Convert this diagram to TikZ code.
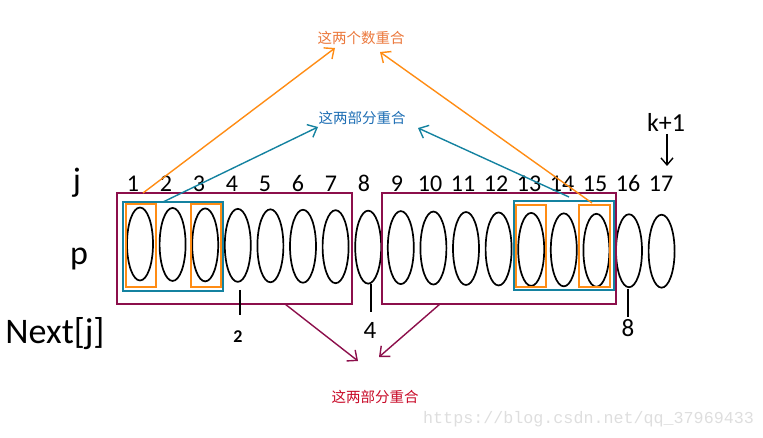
\documentclass[tikz,border=0pt]{standalone}
\usepackage{fontspec}
\setmainfont{Carlito}
\newfontfamily\cjk{Noto Sans CJK SC}
\newfontfamily\wmono{Liberation Mono}
\usetikzlibrary{shapes.geometric,arrows.meta}
\definecolor{pur}{RGB}{140,15,75}
\definecolor{teal2}{RGB}{20,130,160}
\definecolor{org}{RGB}{255,140,20}
\definecolor{otxt}{RGB}{235,120,60}
\definecolor{ttxt}{RGB}{30,110,180}
\definecolor{rtxt}{RGB}{200,10,40}
\definecolor{wm}{RGB}{222,222,222}
\begin{document}
\begin{tikzpicture}[x=1pt,y=-1pt,
  ell/.style={draw,ellipse,line width=1.7pt,minimum width=26pt,minimum height=73pt,inner sep=0pt},
  num/.style={font=\fontsize{24}{24}\selectfont,anchor=base,inner sep=0pt},
  big/.style={font=\fontsize{34}{34}\selectfont,anchor=base,inner sep=0pt},
  rbox/.style={rectangle,inner sep=0pt,outer sep=0pt,line width=1.8pt},
  pbox/.style={rbox,draw=pur},
  tbox/.style={rbox,draw=teal2},
  obox/.style={rbox,draw=org},
  arr/.style={line width=1.4pt,-{Straight Barb[length=8pt,width=14pt]}},
  cn/.style={font=\cjk\fontsize{14.5}{14.5}\selectfont,inner sep=0pt},
  tick/.style={line width=1.6pt},
]
\useasboundingbox (0,0) rectangle (763,438);
% ellipses and indices
\foreach \i in {1,...,17}{
  \node[ell] (e\i) at ({140+(\i-1)*32.6},{244+(\i-1)*0.45}) {};
  \node[num] (j\i) at ({133+(\i-1)*33},192) {\i};
}
% row labels
\node[big] (lj) at (77,192) {j};
\node[big] (lp) at (79,265) {p};
\node[font=\fontsize{36}{36}\selectfont,anchor=base,inner sep=0pt] (lnext) at (55,344) {Next[j]};
% k+1
\node[font=\fontsize{26}{26}\selectfont,anchor=base,inner sep=0pt] (k1) at (666,132) {k+1};
\coordinate (k1b) at (667,134);
\coordinate (k1t) at (667,166);
\draw[line width=1.4pt,-{Straight Barb[length=7pt,width=12pt]}] (k1b) -- (k1t);
% boxes
\node[pbox,minimum width=235pt,minimum height=111pt] (P1) at (234.5,248.5) {};
\node[pbox,minimum width=234pt,minimum height=111pt] (P2) at (499,248.5) {};
\node[tbox,minimum width=100pt,minimum height=89pt] (T1) at (173,246.5) {};
\node[tbox,minimum width=100pt,minimum height=89pt] (T2) at (564,245.5) {};
\node[obox,minimum width=30pt,minimum height=83pt] (O1) at (141,245.5) {};
\node[obox,minimum width=30pt,minimum height=83pt] (O2) at (206,245.5) {};
\node[obox,minimum width=30pt,minimum height=82pt] (O3) at (531,246) {};
\node[obox,minimum width=31pt,minimum height=82pt] (O4) at (594.5,246) {};
% next values
\node[font=\bfseries\fontsize{18}{18}\selectfont,anchor=base,inner sep=0pt] (n2) at (238,342) {2};
\node[font=\fontsize{25}{25}\selectfont,anchor=base,inner sep=0pt] (n4) at (370,338) {4};
\node[font=\fontsize{25}{25}\selectfont,anchor=base,inner sep=0pt] (n8) at (628,337) {8};
\coordinate (t2a) at (240,290); \coordinate (t2b) at (240,315);
\coordinate (t4a) at (371,284); \coordinate (t4b) at (371,312);
\coordinate (t8a) at (628,289); \coordinate (t8b) at (628,317);
\draw[tick] (t2a) -- (t2b);
\draw[tick] (t4a) -- (t4b);
\draw[tick] (t8a) -- (t8b);
% texts
\node[cn,text=otxt] (tx1) at (361,38) {这两个数重合};
\node[cn,text=ttxt] (tx2) at (362,118) {这两部分重合};
\node[cn,text=rtxt] (tx3) at (375,397) {这两部分重合};
% arrow endpoints
\coordinate (oaS) at (143,193); \coordinate (oaT) at (335,48);
\coordinate (obS) at (592,203); \coordinate (obT) at (380,52);
\coordinate (taS) at (163,202); \coordinate (taT) at (318,127);
\coordinate (tbS) at (569,197); \coordinate (tbT) at (418,128);
\coordinate (paS) at (285,304); \coordinate (paT) at (358,361);
\coordinate (pbS) at (440,304); \coordinate (pbT) at (379,357);
\draw[arr,draw=org] (oaS) -- (oaT);
\draw[arr,draw=org] (obS) -- (obT);
\draw[arr,draw=teal2] (taS) -- (taT);
\draw[arr,draw=teal2] (tbS) -- (tbT);
\draw[arr,draw=pur] (paS) -- (paT);
\draw[arr,draw=pur] (pbS) -- (pbT);
% watermark
\node[font=\wmono\fontsize{16.7}{16.7}\selectfont,text=wm,anchor=base west,inner sep=0pt] (wm1) at (423,423) {https://blog.csdn.net/qq\_37969433};
\end{tikzpicture}
\end{document}
